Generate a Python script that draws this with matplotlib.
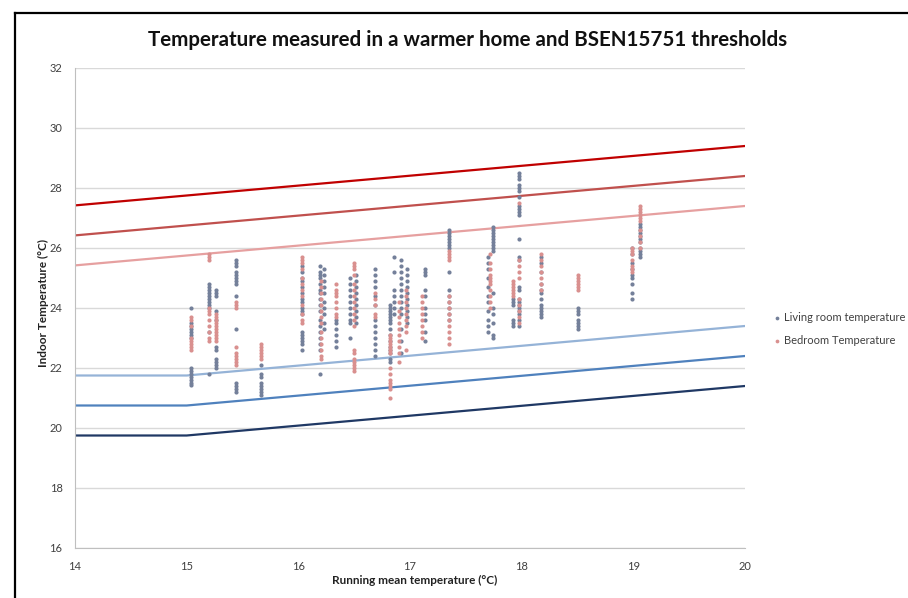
import matplotlib
matplotlib.use("Agg")
import matplotlib.pyplot as plt
from matplotlib.lines import Line2D

plt.rcParams['font.family'] = ['Lato', 'DejaVu Sans']

# ---------------- data ----------------
title = "Temperature measured in a warmer home and BSEN15751 thresholds"
xlabel = "Running mean temperature (°C)"
ylabel = "Indoor Temperature (°C)"
x_ticks = [14, 15, 16, 17, 18, 19, 20]
y_ticks = [16, 18, 20, 22, 24, 26, 28, 30, 32]

# Living room temperature (grey points): x positions and readings
living_cols = [15.04, 15.20, 15.26, 15.44, 15.67, 16.03, 16.19, 16.23, 16.34, 16.46,
               16.52, 16.69, 16.82, 16.86, 16.92, 16.97, 17.13, 17.35, 17.70, 17.74,
               17.92, 17.98, 18.17, 18.50, 18.99, 19.06]
living_vals = [
    [24.0, 23.5, 23.4, 23.3, 23.2, 23.1, 23.0, 22.0, 21.9, 21.8, 21.7, 21.6, 21.5, 21.45],
    [24.8, 24.7, 24.6, 24.5, 24.4, 24.3, 24.2, 24.1, 24.0, 23.2, 21.8],
    [24.6, 24.5, 24.4, 23.9, 23.6, 22.7, 22.6, 22.3, 22.2, 22.1, 22.0],
    [25.6, 25.5, 25.4, 25.2, 25.1, 25.0, 24.9, 24.8, 24.4, 23.3, 21.5, 21.4, 21.3, 21.2],
    [22.1, 21.8, 21.7, 21.5, 21.4, 21.3, 21.2, 21.1],
    [25.4, 25.2, 25.0, 24.9, 24.7, 24.5, 24.3, 24.2, 24.0, 23.9, 23.8, 23.2, 23.1, 23.0, 22.9, 22.8, 22.6],
    [25.4, 25.2, 25.1, 25.0, 24.8, 24.6, 24.5, 24.3, 24.1, 23.9, 23.6, 23.4, 23.2, 23.0, 22.8, 22.6, 21.8],
    [25.3, 25.1, 24.9, 24.7, 24.5, 24.2, 24.0, 23.8, 23.5, 23.3],
    [23.6, 23.5, 23.3, 23.1, 22.9, 22.7],
    [25.0, 24.8, 24.6, 24.4, 24.2, 24.0, 23.8, 23.6, 23.5, 23.0],
    [25.1, 24.9, 24.7, 24.5, 24.3, 24.1, 23.9, 23.7, 23.5],
    [25.3, 25.1, 24.9, 24.7, 24.4, 24.1, 23.6, 23.4, 23.2, 23.0, 22.8, 22.6, 22.4],
    [24.1, 24.0, 23.9, 23.8, 23.7, 23.6, 23.5, 23.3, 23.1, 22.9, 22.7, 22.6, 22.5, 22.3, 22.2],
    [25.7, 25.2, 24.6, 24.4, 24.2, 24.0, 23.8],
    [25.6, 25.4, 25.2, 25.0, 24.8, 24.6, 24.4, 24.2, 24.0, 23.8, 23.3, 22.9, 22.5],
    [25.3, 25.1, 24.9, 24.7, 24.5, 24.3, 24.1, 23.9, 23.7, 23.5],
    [25.3, 25.2, 25.1, 24.6, 24.4, 24.0, 23.8, 23.6, 23.2, 22.9],
    [26.6, 26.5, 26.4, 26.3, 26.2, 26.1, 26.0, 25.2, 24.6, 24.4, 24.2, 24.0, 23.8, 23.6],
    [25.7, 25.5, 25.3, 25.0, 24.7, 24.4, 24.2, 23.9, 23.6, 23.4, 23.2],
    [26.7, 26.6, 26.5, 26.4, 26.3, 26.2, 26.1, 26.0, 25.9, 24.5, 24.0, 23.8, 23.5, 23.1, 23.0],
    [24.3, 24.2, 24.1, 23.6, 23.5, 23.4],
    [28.5, 28.4, 28.3, 28.1, 28.0, 27.9, 27.7, 27.4, 27.3, 27.2, 27.1, 26.3, 25.7, 25.6,
     24.7, 24.6, 24.3, 24.2, 24.1, 24.0, 23.9, 23.8, 23.6, 23.4],
    [25.7, 25.5, 25.2, 24.8, 24.6, 24.5, 24.3, 24.1, 24.0, 23.9, 23.8, 23.7],
    [24.0, 23.9, 23.8, 23.6, 23.5, 23.4, 23.3],
    [26.0, 25.8, 25.5, 25.3, 25.1, 25.0, 24.8, 24.5, 24.3],
    [26.8, 26.7, 26.6, 26.5, 26.4, 26.3, 26.2, 26.0, 25.9, 25.8, 25.7],
]

# Bedroom temperature (pink points)
bed_cols = [15.04, 15.20, 15.26, 15.44, 15.67, 16.03, 16.20, 16.34, 16.50, 16.69,
            16.82, 16.90, 16.96, 17.11, 17.35, 17.72, 17.92, 17.98, 18.17, 18.50,
            18.99, 19.06]
bed_vals = [
    [23.7, 23.6, 23.4, 23.0, 22.9, 22.8, 22.7, 22.6],
    [25.8, 25.7, 25.6, 24.0, 23.9, 23.8, 23.6, 23.4, 23.2, 23.0, 22.9],
    [23.8, 23.7, 23.6, 23.5, 23.4, 23.3, 23.2, 23.1, 23.0, 22.9],
    [24.2, 24.1, 24.0, 22.7, 22.5, 22.4, 22.3, 22.2, 22.1],
    [22.8, 22.7, 22.6, 22.5, 22.4, 22.3],
    [25.7, 25.6, 25.5, 25.3, 25.0, 24.8, 24.6, 24.4, 24.1, 23.8, 23.6, 23.5],
    [24.9, 24.7, 24.5, 24.3, 24.1, 23.9, 23.7, 23.5, 23.2, 23.0, 22.8, 22.6, 22.4, 22.3],
    [24.8, 24.6, 24.5, 24.4, 24.2, 24.0, 23.8, 23.7],
    [25.5, 25.4, 25.3, 25.1, 24.8, 24.6, 24.4, 24.2, 24.0, 23.8, 23.6, 23.4,
     22.6, 22.5, 22.3, 22.2, 22.1, 22.0, 21.9],
    [24.5, 24.3, 24.1, 23.8, 23.7],
    [23.1, 23.0, 22.9, 22.8, 22.7, 22.6, 22.5, 22.0, 21.8, 21.6, 21.5, 21.4, 21.3, 21.0],
    [24.2, 23.9, 23.7, 23.5, 23.3, 23.1, 22.9, 22.7, 22.5, 22.2],
    [24.6, 24.4, 24.2, 24.0, 23.8, 23.6, 23.4, 23.2, 22.6],
    [24.4, 24.2, 24.0, 23.8, 23.6, 23.4, 23.2, 23.0],
    [25.9, 25.8, 25.7, 25.6, 24.4, 24.2, 24.0, 23.8, 23.6, 23.4, 23.2, 23.0, 22.8],
    [25.8, 25.5, 25.3, 25.1, 25.0, 24.9, 24.8, 24.6, 24.4, 24.2, 24.0],
    [24.9, 24.8, 24.7, 24.6, 24.5, 24.4],
    [27.5, 25.6, 25.4, 25.2, 25.0, 24.3, 24.1, 23.9, 23.7, 23.5],
    [25.8, 25.6, 25.4, 25.2, 25.0, 24.8, 24.6],
    [25.1, 25.0, 24.9, 24.8, 24.7, 24.6],
    [26.0, 25.9, 25.8, 25.6, 25.4, 25.3, 25.2],
    [27.4, 27.3, 27.2, 27.1, 27.0, 26.9, 26.6, 26.4, 26.2, 26.0],
]

# BSEN15751 threshold lines
thr_x = [14, 15, 20]
upper_III = [27.42, 27.75, 29.40]
upper_II = [26.42, 26.75, 28.40]
upper_I = [25.42, 25.75, 27.40]
lower_I = [21.75, 21.75, 23.40]
lower_II = [20.75, 20.75, 22.40]
lower_III = [19.75, 19.75, 21.40]

# ---------------- plot ----------------
fig = plt.figure(figsize=(9.08, 5.98), dpi=100)
ax = fig.add_axes([75/908, 1-548/598, 670/908, 480/598])

grey = '#74809A'
pink = '#D9908F'

lx, ly = [], []
for xc, vals in zip(living_cols, living_vals):
    lx += [xc]*len(vals); ly += vals
bx, by = [], []
for xc, vals in zip(bed_cols, bed_vals):
    bx += [xc]*len(vals); by += vals

ax.scatter(lx, ly, s=9, color=grey, linewidths=0, zorder=3, label='Living room temperature')
ax.scatter(bx, by, s=9, color=pink, linewidths=0, zorder=3, label='Bedroom Temperature')

lw = 1.6
ax.plot(thr_x, upper_III, color='#C00000', lw=lw, zorder=2)
ax.plot(thr_x, upper_II, color='#C0504D', lw=lw, zorder=2)
ax.plot(thr_x, upper_I, color='#E6A0A0', lw=lw, zorder=2)
ax.plot(thr_x, lower_I, color='#95B3D7', lw=lw, zorder=2)
ax.plot(thr_x, lower_II, color='#4F81BD', lw=lw, zorder=2)
ax.plot(thr_x, lower_III, color='#1F3864', lw=lw, zorder=2)

ax.set_xlim(14, 20)
ax.set_ylim(16, 32)
ax.set_xticks(x_ticks)
ax.set_yticks(y_ticks)
ax.set_xticklabels([str(v) for v in x_ticks], fontsize=8, color='#404040')
ax.set_yticklabels([str(v) for v in y_ticks], fontsize=8, color='#404040')
ax.tick_params(axis='y', length=0, pad=9)
ax.tick_params(axis='x', length=0, pad=9)
ax.grid(axis='y', color='#D9D9D9', lw=1)
ax.set_axisbelow(True)
for s in ['top', 'right']:
    ax.spines[s].set_visible(False)
ax.spines['left'].set_color('#BFBFBF')
ax.spines['bottom'].set_color('#BFBFBF')

fig.text(415/908, 1 - 580/598, xlabel, fontsize=8.5, fontweight='bold',
         color='#222222', ha='center', va='center')
fig.text(43/908, 1 - 303/598, ylabel, fontsize=8.5, fontweight='bold', color='#222222',
         ha='center', va='center', rotation=90)

fig.text(468/908, 1-40/598, title, fontsize=14.8, fontweight='bold', ha='center', va='center',
         color='#111111')

leg = fig.legend(loc='upper left', bbox_to_anchor=(760/908, 1-302/598), frameon=False,
                 fontsize=8, handletextpad=0.1, labelspacing=1.1, markerscale=0.9,
                 handlelength=1.2)
for t in leg.get_texts():
    t.set_color('#404040')

# figure frame
fig.add_artist(Line2D([15/908, 1], [1-13/598, 1-13/598], color='black', lw=1.6,
                      transform=fig.transFigure))
fig.add_artist(Line2D([15/908, 15/908], [0, 1-13/598], color='black', lw=1.6,
                      transform=fig.transFigure))

fig.savefig('out.png', dpi=100)
